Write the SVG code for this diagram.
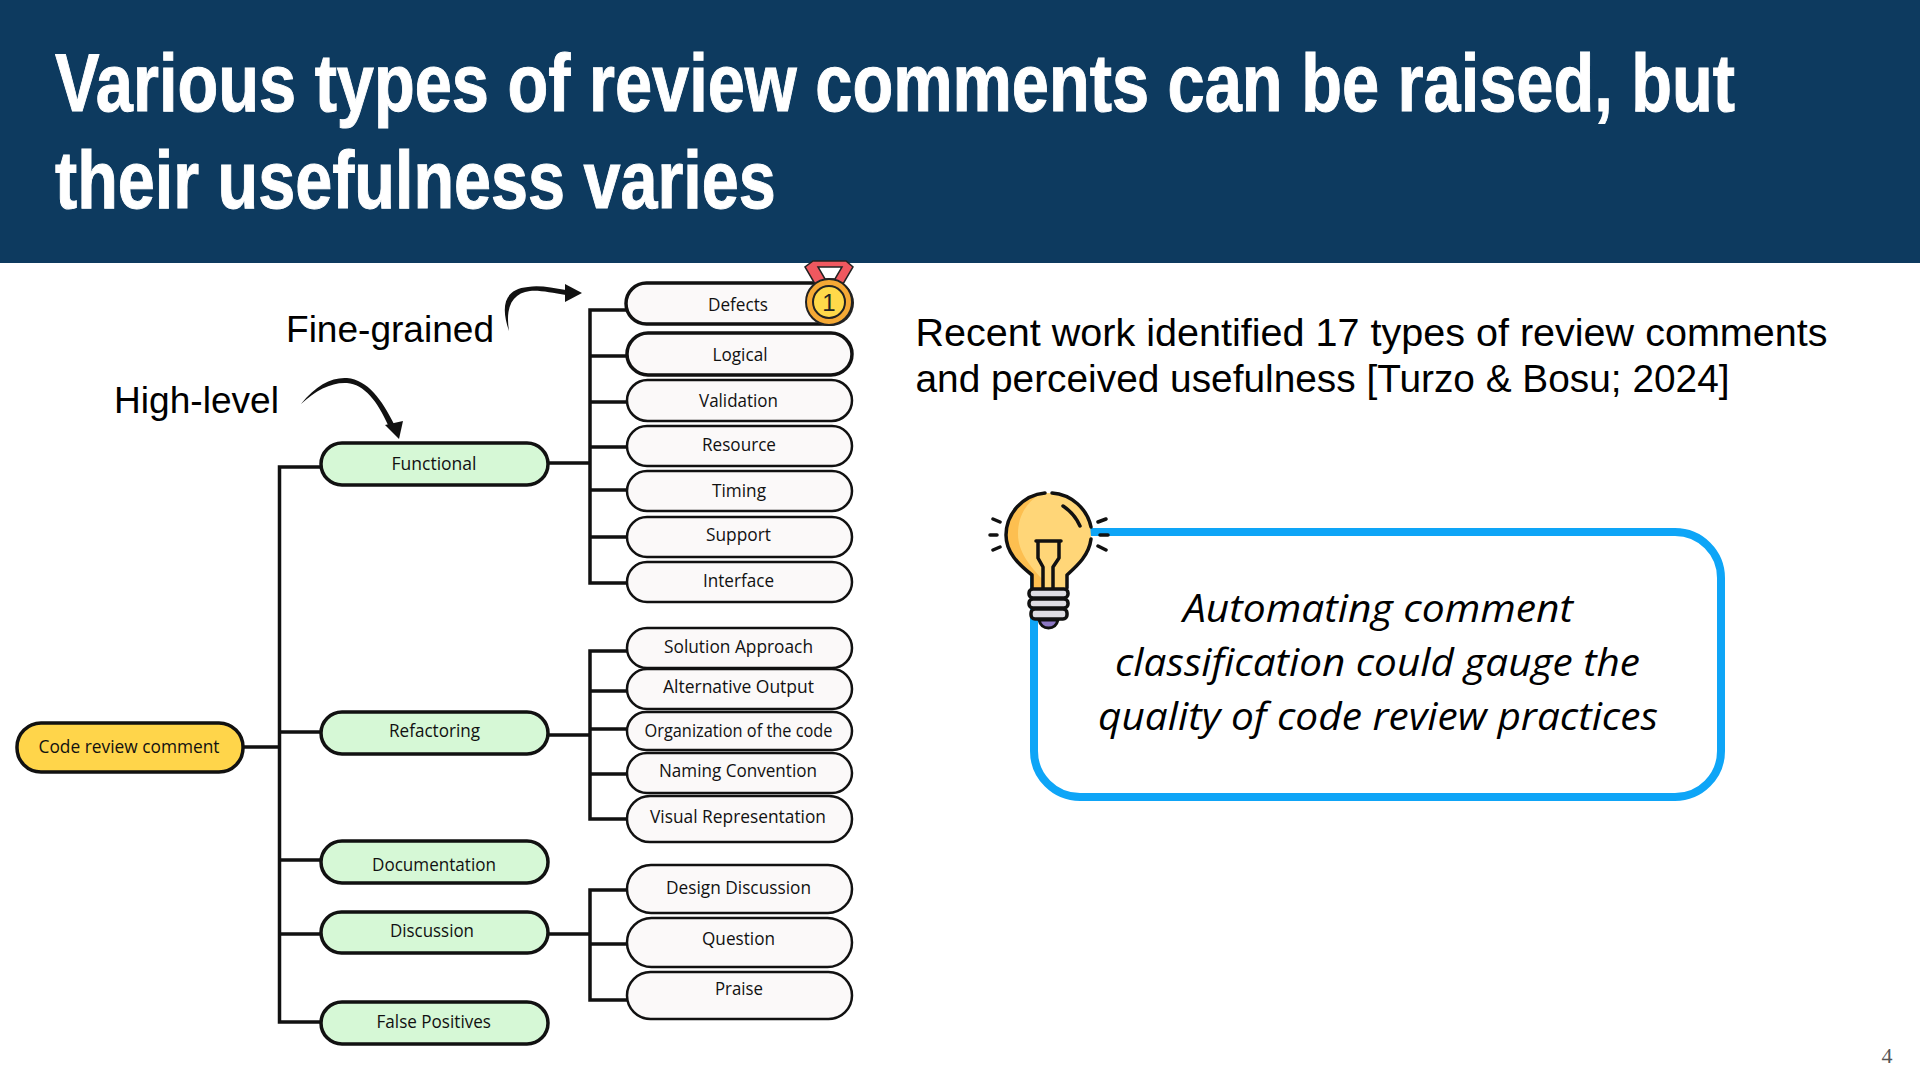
<svg xmlns="http://www.w3.org/2000/svg" width="1920" height="1080" viewBox="0 0 1920 1080">
<style>
.title{font-family:"Liberation Sans",Arial,sans-serif;font-weight:700;font-size:81px;fill:#fff;stroke:#fff;stroke-width:1}
.sans{font-family:"Liberation Sans",Arial,sans-serif;fill:#000}
.n{font-family:"Open Sans","Noto Sans",sans-serif;font-size:19px;fill:#111;text-anchor:start}
.leaf{fill:#fbf9f9;stroke:#111;stroke-width:2.500}
.bold{stroke-width:3.500}
.mid{fill:#d6f8d6;stroke:#111;stroke-width:3.500}
.root{fill:#ffd54a;stroke:#111;stroke-width:3.500}
.c{fill:none;stroke:#111;stroke-width:3.500}
.it{font-family:"Open Sans","Noto Sans",sans-serif;font-style:italic;font-size:38px;fill:#000}
.k{stroke:#111;stroke-width:3.500;fill:none;stroke-linecap:round;stroke-linejoin:round}
</style>
<rect width="1920" height="1080" fill="#fff"/>
<rect id="header" width="1920" height="263" fill="#0d3a5f"/>
<text class="title" transform="translate(55 111) scale(.8 1)" textLength="2100" lengthAdjust="spacingAndGlyphs">Various types of review comments can be raised, but</text>
<text class="title" transform="translate(55 208) scale(.8 1)" textLength="901" lengthAdjust="spacingAndGlyphs">their usefulness varies</text>

<g id="connectors">
<path class="c" d="M243 747H279.500M321 467H279.500V1022H321M279.500 732H321M279.500 860H321M279.500 934H321"/>
<path class="c" d="M548 463H590M627 310H590V583H627M590 356H627M590 402H627M590 447H627M590 490H627M590 537H627"/>
<path class="c" d="M548 735H590M627 651H590V819H627M590 691H627M590 729H627M590 774H627"/>
<path class="c" d="M548 934H590M627 890H590V1000H627M590 944H627"/>
<path d="M509 331C500 305 505 289 528 287C540 285 552 288 566 290V295C552 293 540 290 530 291C513 293 505 306 509 331Z" fill="#111"/>
<path d="M582 293L565 284V302Z" fill="#111"/>
<path d="M301 404C316 385 332 377 347 378C368 380 382 400 394 424L388 425C378 402 364 384 347 383C332 382 316 390 301 404Z" fill="#111"/>
<path d="M399 439L385 425L403 421Z" fill="#111"/>
</g>

<text class="sans" x="286" y="342" font-size="36" textLength="208" lengthAdjust="spacingAndGlyphs">Fine-grained</text>
<text class="sans" x="114" y="413" font-size="36" textLength="165" lengthAdjust="spacingAndGlyphs">High-level</text>

<g id="root"><rect class="root" x="17" y="723" width="226" height="49" rx="24"/><text class="n" x="38.500" y="753" textLength="181" lengthAdjust="spacingAndGlyphs">Code review comment</text></g>

<g id="functional"><rect class="mid" x="321" y="443" width="227" height="42" rx="21"/><text class="n" x="391.500" y="470" textLength="85" lengthAdjust="spacingAndGlyphs">Functional</text></g>
<g id="refactoring"><rect class="mid" x="321" y="712" width="227" height="42" rx="21"/><text class="n" x="389" y="737" textLength="91" lengthAdjust="spacingAndGlyphs">Refactoring</text></g>
<g id="documentation"><rect class="mid" x="321" y="841" width="227" height="42" rx="21"/><text class="n" x="372" y="871" textLength="124" lengthAdjust="spacingAndGlyphs">Documentation</text></g>
<g id="discussion"><rect class="mid" x="321" y="912" width="227" height="41" rx="20.500"/><text class="n" x="390" y="937" textLength="84" lengthAdjust="spacingAndGlyphs">Discussion</text></g>
<g id="false-positives"><rect class="mid" x="321" y="1002" width="227" height="42" rx="21"/><text class="n" x="376.500" y="1028" textLength="114.500" lengthAdjust="spacingAndGlyphs">False Positives</text></g>

<g id="defects"><rect class="leaf bold" x="626" y="283" width="224" height="41" rx="20.500"/><text class="n" x="708" y="311" textLength="60" lengthAdjust="spacingAndGlyphs">Defects</text></g>
<g id="logical"><rect class="leaf bold" x="627" y="333" width="225" height="42" rx="21"/><text class="n" x="712.500" y="361" textLength="55" lengthAdjust="spacingAndGlyphs">Logical</text></g>
<g id="validation"><rect class="leaf" x="627" y="380" width="225" height="41" rx="20.500"/><text class="n" x="699" y="407" textLength="79" lengthAdjust="spacingAndGlyphs">Validation</text></g>
<g id="resource"><rect class="leaf" x="627" y="426" width="225" height="40" rx="20"/><text class="n" x="702" y="451" textLength="74" lengthAdjust="spacingAndGlyphs">Resource</text></g>
<g id="timing"><rect class="leaf" x="627" y="471" width="225" height="40" rx="20"/><text class="n" x="712" y="497" textLength="54" lengthAdjust="spacingAndGlyphs">Timing</text></g>
<g id="support"><rect class="leaf" x="627" y="517" width="225" height="40" rx="20"/><text class="n" x="706" y="541" textLength="65" lengthAdjust="spacingAndGlyphs">Support</text></g>
<g id="interface"><rect class="leaf" x="627" y="562" width="225" height="40" rx="20"/><text class="n" x="703" y="587" textLength="71" lengthAdjust="spacingAndGlyphs">Interface</text></g>

<g id="solution-approach"><rect class="leaf" x="627" y="628" width="225" height="40" rx="20"/><text class="n" x="664" y="653" textLength="149" lengthAdjust="spacingAndGlyphs">Solution Approach</text></g>
<g id="alternative-output"><rect class="leaf" x="627" y="669" width="225" height="40" rx="20"/><text class="n" x="663" y="693" textLength="151" lengthAdjust="spacingAndGlyphs">Alternative Output</text></g>
<g id="organization"><rect class="leaf" x="627" y="712" width="225" height="38" rx="19"/><text class="n" x="644.500" y="737" textLength="188" lengthAdjust="spacingAndGlyphs">Organization of the code</text></g>
<g id="naming-convention"><rect class="leaf" x="627" y="753" width="225" height="40" rx="20"/><text class="n" x="659" y="777" textLength="158" lengthAdjust="spacingAndGlyphs">Naming Convention</text></g>
<g id="visual-representation"><rect class="leaf" x="627" y="796" width="225" height="46" rx="23"/><text class="n" x="650" y="823" textLength="176" lengthAdjust="spacingAndGlyphs">Visual Representation</text></g>

<g id="design-discussion"><rect class="leaf" x="627" y="865" width="225" height="48" rx="24"/><text class="n" x="666" y="894" textLength="145" lengthAdjust="spacingAndGlyphs">Design Discussion</text></g>
<g id="question"><rect class="leaf" x="627" y="918" width="225" height="49" rx="24.500"/><text class="n" x="702" y="945" textLength="73" lengthAdjust="spacingAndGlyphs">Question</text></g>
<g id="praise"><rect class="leaf" x="627" y="972" width="225" height="47" rx="23.500"/><text class="n" x="715" y="995" textLength="48" lengthAdjust="spacingAndGlyphs">Praise</text></g>

<g id="medal">
<path fill-rule="evenodd" d="M813 261H846L853 267L843 284H815L805 267ZM818 267H842L835 279H825Z" fill="#f0585f" stroke="#222" stroke-width="1.500"/>
<circle cx="831" cy="303" r="23" fill="#222"/>
<circle cx="829" cy="302" r="23" fill="#f5a935" stroke="#222" stroke-width="2"/>
<circle cx="829" cy="302" r="16" fill="#ffd94a" stroke="#222" stroke-width="2"/>
<text x="829" y="311" font-family="Liberation Sans,sans-serif" font-size="24" fill="#222" text-anchor="middle">1</text>
</g>

<text class="sans" x="915.500" y="346" font-size="38" textLength="912" lengthAdjust="spacingAndGlyphs">Recent work identified 17 types of review comments</text>
<text class="sans" x="915.500" y="392" font-size="38" textLength="814" lengthAdjust="spacingAndGlyphs">and perceived usefulness [Turzo &amp; Bosu; 2024]</text>

<g id="callout">
<rect x="1034" y="532" width="687" height="265" rx="46" fill="#fff" stroke="#0ea5f7" stroke-width="8"/>
<text class="it" x="1183" y="622" textLength="390" lengthAdjust="spacingAndGlyphs">Automating comment</text>
<text class="it" x="1115" y="676" textLength="525" lengthAdjust="spacingAndGlyphs">classification could gauge the</text>
<text class="it" x="1098" y="730" textLength="560" lengthAdjust="spacingAndGlyphs">quality of code review practices</text>
</g>

<g id="bulb">
<path d="M1048 493A43 43 0 0 1 1091 536C1091 552 1080 564 1067 575V589H1032V575C1018 564 1006 552 1006 536A43 43 0 0 1 1048 493Z" fill="#ffd678"/>
<path d="M1040 494C1014 498 1006 520 1006 536C1006 552 1018 564 1032 575V589H1043V580C1030 566 1018 552 1018 534C1018 516 1026 503 1040 494Z" fill="#fdbf50"/>
<path class="k" d="M1045 493A43 43 0 0 0 1006 535C1006 552 1018 564 1032 575V588M1052 493A43 43 0 0 1 1091 527M1091 539C1089 555 1078 565 1067 575V588M1063 506C1072 512 1077 519 1080 526M1036 541H1061M1038 541V558L1043 567V588M1059 541V558L1053 567V588"/>
<path d="M1039 620H1058Q1056 628 1048.500 628Q1041 628 1039 620Z" fill="#8d78c4" stroke="#111" stroke-width="3"/>
<rect x="1029" y="589" width="39" height="9" rx="4" fill="#dedde3" stroke="#111" stroke-width="3.500"/>
<rect x="1029" y="599" width="39" height="9" rx="4" fill="#dedde3" stroke="#111" stroke-width="3.500"/>
<rect x="1031" y="609" width="36" height="10" rx="4" fill="#dedde3" stroke="#111" stroke-width="3.500"/>
<path class="k" d="M993 519L1000 522M990 535H997M993 550L1000 547M1106 519L1098 522M1108 535H1100M1106 550L1098 546"/>
</g>

<text x="1887" y="1063" font-family="Liberation Serif,serif" font-size="22" fill="#555" text-anchor="middle">4</text>
</svg>
